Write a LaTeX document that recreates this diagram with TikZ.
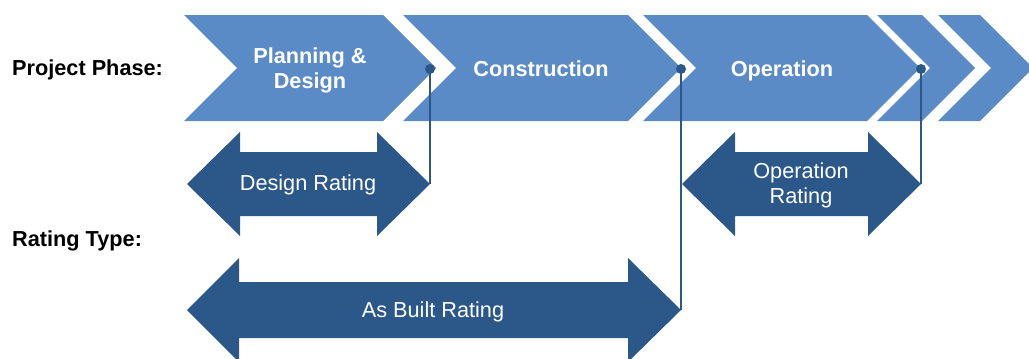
\documentclass[tikz,border=0pt]{standalone}
\usepackage{fontspec}
\setmainfont{Liberation Sans}
\definecolor{chev}{RGB}{91,139,199}
\definecolor{darr}{RGB}{43,87,137}
\begin{document}
\begin{tikzpicture}[x=1pt,y=-1pt,
  chevron/.style={fill=chev, draw=none},
  darrow/.style={fill=darr, draw=none},
  phase/.style={text=white, font=\bfseries\fontsize{21.7}{25}\selectfont, align=center, inner sep=0pt},
  rating/.style={text=white, font=\fontsize{21.7}{25}\selectfont, align=center, inner sep=0pt},
  rowlabel/.style={text=black, font=\bfseries\fontsize{21.7}{25}\selectfont, anchor=west, inner sep=0pt},
  link/.style={draw=darr, line width=2.4pt},
  dotmark/.style={circle, fill=darr, inner sep=0pt, minimum size=10pt}]
\useasboundingbox (0,0) rectangle (1029,359);
% chevrons
\fill[chevron] (184,15) -- (383,15) -- (436,68) -- (383,121) -- (184,121) -- (237,68) -- cycle;
\fill[chevron] (403,15) -- (628,15) -- (681,68) -- (628,121) -- (403,121) -- (456,68) -- cycle;
\fill[chevron] (643,15) -- (867,15) -- (920,68) -- (867,121) -- (643,121) -- (696,68) -- cycle;
\fill[chevron] (877,15) -- (922,15) -- (975,68) -- (922,121) -- (877,121) -- (930,68) -- cycle;
\fill[chevron] (938,15) -- (980,15) -- (1033,68) -- (980,121) -- (938,121) -- (991,68) -- cycle;
\node[phase] (plan) at (310,70) {Planning \&\\Design};
\node[phase] (cons) at (541,69) {Construction};
\node[phase] (oper) at (782,71) {Operation};
% rating arrows
\fill[darrow] (187,184) -- (240,132) -- (240,152) -- (377,152) -- (377,132) -- (430,184) -- (377,236) -- (377,216) -- (240,216) -- (240,236) -- cycle;
\fill[darrow] (682,184) -- (735,132) -- (735,152) -- (868,152) -- (868,132) -- (921,184) -- (868,236) -- (868,216) -- (735,216) -- (735,236) -- cycle;
\fill[darrow] (187,310) -- (239,258) -- (239,282) -- (628,282) -- (628,258) -- (681,310) -- (628,362) -- (628,338) -- (239,338) -- (239,362) -- cycle;
\node[rating] (dr) at (308,185) {Design Rating};
\node[rating] (or) at (801,185) {Operation\\Rating};
\node[rating] (ab) at (433,312) {As Built Rating};
% row labels
\node[rowlabel] (pp) at (12,70) {Project Phase:};
\node[rowlabel] (rt) at (12,241) {Rating Type:};
% connectors
\coordinate (d1) at (430,69);
\coordinate (t1) at (430,184);
\coordinate (d2) at (681,69);
\coordinate (t2) at (681,310);
\coordinate (d3) at (921,69);
\coordinate (t3) at (921,184);
\draw[link] (d1) -- (t1);
\draw[link] (d2) -- (t2);
\draw[link] (d3) -- (t3);
\node[dotmark] (m1) at (d1) {};
\node[dotmark] (m2) at (d2) {};
\node[dotmark] (m3) at (d3) {};
\end{tikzpicture}
\end{document}
